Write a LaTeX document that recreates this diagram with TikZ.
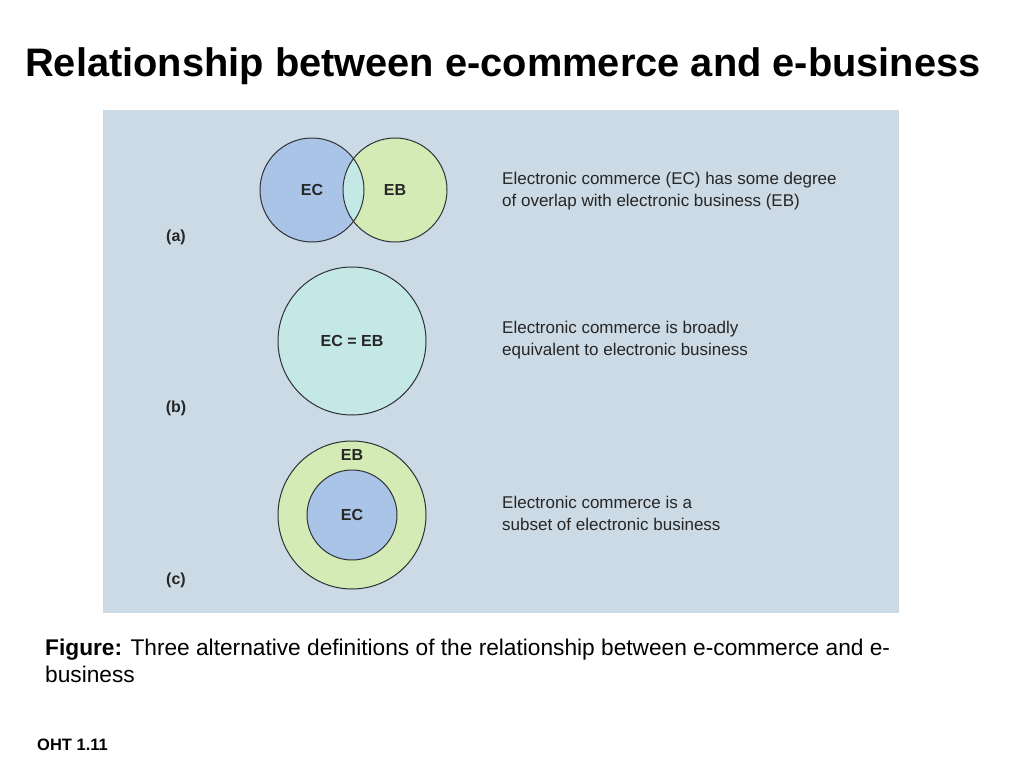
\documentclass[tikz,border=0pt]{standalone}
\usepackage{fontspec}
\setmainfont{Liberation Sans}
\usepackage{tikz}
\usetikzlibrary{positioning}

\definecolor{panelbg}{RGB}{204,218,229}
\definecolor{ecblue}{RGB}{169,196,230}
\definecolor{ebgreen}{RGB}{212,235,181}
\definecolor{eqcyan}{RGB}{196,232,230}
\definecolor{rimgray}{RGB}{45,50,55}

\tikzset{
  rim/.style={draw=rimgray, line width=1pt},
  setlabel/.style={font=\fontsize{16}{18}\selectfont\bfseries, text=black!85},
  partlabel/.style={font=\fontsize{16}{18}\selectfont\bfseries, text=black!85},
  desc/.style={font=\fontsize{17}{22}\selectfont, text=black!85, align=left, anchor=west, inner sep=0pt}
}

\begin{document}
\begin{tikzpicture}[x=1pt, y=-1pt]
        \useasboundingbox (0,0) rectangle (1024,768);
        \fill[white] (0,0) rectangle (1024,768);

        % title
        \node[anchor=west, inner sep=0pt, font=\fontsize{39.8}{48}\selectfont\bfseries] (title) at (25,66) {Relationship between e-commerce and e-business};

        % panel
        \fill[panelbg] (103,110) rectangle (899,613);

        % (a) overlap
        \coordinate (ECa) at (312,190);
        \coordinate (EBa) at (395,190);
        \fill[ecblue] (ECa) circle (52);
        \fill[ebgreen] (EBa) circle (52);
        \begin{scope}
            \clip (ECa) circle (52);
            \fill[eqcyan] (EBa) circle (52);
        \end{scope}
        \draw[rim] (ECa) circle (52);
        \draw[rim] (EBa) circle (52);
        \node[setlabel] (ecA) at (ECa) {EC};
        \node[setlabel] (ebA) at (EBa) {EB};

        % (b) equivalent
        \coordinate (Ob) at (352,341);
        \draw[rim, fill=eqcyan] (Ob) circle (74);
        \node[setlabel] (eqB) at (Ob) {EC = EB};

        % (c) subset
        \coordinate (Oc) at (352,515);
        \draw[rim, fill=ebgreen] (Oc) circle (74);
        \draw[rim, fill=ecblue] (Oc) circle (45);
        \node[setlabel] (ecC) at (Oc) {EC};
        \node[setlabel] (ebC) at (352,455) {EB};

        % part labels
        \node[partlabel] (pa) at (176,237) {(a)};
        \node[partlabel] (pb) at (176,408) {(b)};
        \node[partlabel] (pc) at (176,580) {(c)};

        % descriptions
        \node[desc] (da) at (502,191) {Electronic commerce (EC) has some degree\\of overlap with electronic business (EB)};
        \node[desc] (db) at (502,340) {Electronic commerce is broadly\\equivalent to electronic business};
        \node[desc] (dc) at (502,513) {Electronic commerce is a\\subset of electronic business};

        % caption
        \node[anchor=north west, inner sep=0pt, align=left, font=\fontsize{22.7}{27}\selectfont] (caption) at (45,639) {\textbf{Figure:} Three alternative definitions of the relationship between e-commerce and e-\\business};

        \node[anchor=west, inner sep=0pt, font=\fontsize{16.5}{18}\selectfont\bfseries] (oht) at (37,745) {OHT 1.11};
    \end{tikzpicture}
\end{document}
